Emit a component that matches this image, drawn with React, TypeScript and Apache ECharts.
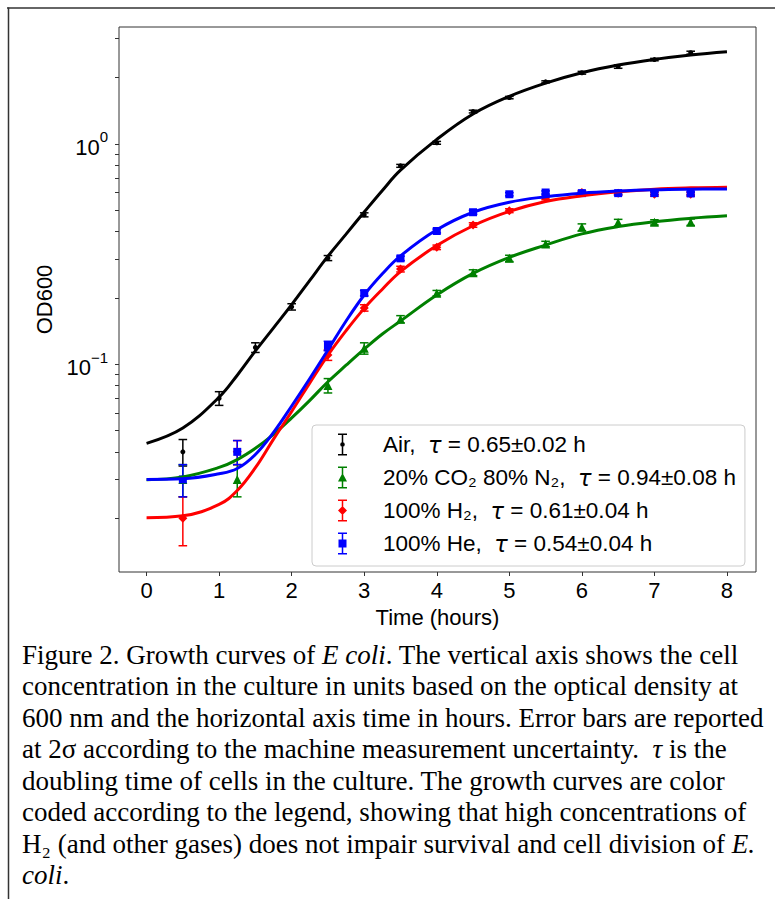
import React, { useEffect, useRef } from 'react';
import * as echarts from 'echarts';

// ---------- data ----------
const fitTime = [0, 0.5, 1, 1.25, 1.5, 1.75, 2, 2.25, 2.5, 2.75, 3, 3.25, 3.5, 4, 4.5, 5, 5.5, 6, 6.5, 7, 7.5, 8];
const airFit = [0.0437, 0.0513, 0.0708, 0.0891, 0.1148, 0.1462, 0.1862, 0.2399, 0.309, 0.389, 0.49, 0.614, 0.759, 1.047, 1.365, 1.641, 1.884, 2.099, 2.275, 2.415, 2.529, 2.618];
const co2Fit = [0.0299, 0.0308, 0.034, 0.0369, 0.0415, 0.048, 0.057, 0.0685, 0.0832, 0.0989, 0.117, 0.137, 0.157, 0.206, 0.258, 0.305, 0.347, 0.39, 0.421, 0.443, 0.459, 0.471];
const h2Fit = [0.0201, 0.0205, 0.0231, 0.0267, 0.0339, 0.0457, 0.061, 0.0822, 0.1099, 0.1419, 0.1791, 0.2188, 0.263, 0.3451, 0.4246, 0.4932, 0.547, 0.5808, 0.6053, 0.6223, 0.631, 0.6353];
const heFit = [0.03, 0.0302, 0.0318, 0.0336, 0.0389, 0.049, 0.0646, 0.0861, 0.116, 0.157, 0.206, 0.257, 0.31, 0.407, 0.489, 0.543, 0.575, 0.597, 0.61, 0.618, 0.622, 0.624];

const airTime = [0.5, 1, 1.5, 2, 2.5, 3, 3.5, 4, 4.5, 5, 5.5, 6, 6.5, 7, 7.5];
const airOD = [0.04, 0.07, 0.119, 0.182, 0.303, 0.476, 0.794, 1.01, 1.4, 1.62, 1.91, 2.1, 2.24, 2.41, 2.59];
const airErr = [0.0055, 0.005, 0.006, 0.006, 0.008, 0.01, 0.012, 0.015, 0.02, 0.02, 0.02, 0.03, 0.04, 0.03, 0.04];

const gasTime = [0.5, 1.25, 2.5, 3, 3.5, 4, 4.5, 5, 5.5, 6, 6.5, 7, 7.5];
const co2OD = [0.03, 0.03, 0.08, 0.118, 0.16, 0.21, 0.26, 0.302, 0.351, 0.418, 0.439, 0.44, 0.441];
const co2Err = [0.005, 0.005, 0.006, 0.007, 0.006, 0.006, 0.008, 0.01, 0.01, 0.015, 0.015, 0.012, 0.015];
const h2OD = [0.02, 0.04, 0.11, 0.18, 0.27, 0.339, 0.428, 0.497, 0.567, 0.601, 0.597, 0.59, 0.59];
const h2Err = [0.005, 0.005, 0.006, 0.006, 0.008, 0.008, 0.01, 0.01, 0.01, 0.012, 0.012, 0.012, 0.012];
const heOD = [0.03, 0.04, 0.121, 0.21, 0.302, 0.402, 0.489, 0.59, 0.601, 0.597, 0.597, 0.597, 0.595];
const heErr = [0.005, 0.005, 0.006, 0.006, 0.007, 0.008, 0.01, 0.01, 0.01, 0.01, 0.01, 0.01, 0.01];

const xTicks = [0, 1, 2, 3, 4, 5, 6, 7, 8];
const yLabelTicks = [0.1, 1];
const yTicks = [0.02, 0.03, 0.04, 0.05, 0.06, 0.07, 0.08, 0.09, 0.1, 0.2, 0.3, 0.4, 0.5, 0.6, 0.7, 0.8, 0.9, 1, 2, 3];

const seriesNames = ['Air', '20% CO2 80% N2', '100% H2', '100% He'];
const legendLabels = [
  'Air,  {t|τ} = 0.65±0.02 h',
  '20% CO₂ 80% N₂,  {t|τ} = 0.94±0.08 h',
  '100% H₂,  {t|τ} = 0.61±0.04 h',
  '100% He,  {t|τ} = 0.54±0.04 h',
];

const captionLines = [
  'Figure 2. Growth curves of {i|E coli}. The vertical axis shows the cell',
  'concentration in the culture in units based on the optical density at',
  '600 nm and the horizontal axis time in hours. Error bars are reported',
  'at 2σ according to the machine measurement uncertainty.  {i|τ} is the',
  'doubling time of cells in the culture. The growth curves are color',
  'coded according to the legend, showing that high concentrations of',
  'H₂ (and other gases) does not impair survival and cell division of {i|E.}',
  '{i|coli}.',
];

// ---------- styles ----------
const colors = ['#000000', '#008000', '#ff0000', '#0000ff'];
const symbols = ['circle', 'triangle', 'diamond', 'rect'];
const symbolSizes: any[] = [5, [9, 9], [9, 9], 8];
const barPath = 'M1.5 0H10.5V1.5H1.5Z M1.5 20.5H10.5V22H1.5Z M5.25 0H6.75V22H5.25Z ';
const markerPaths = [
  'M8.3 11A2.3 2.3 0 1 1 3.7 11A2.3 2.3 0 1 1 8.3 11Z',
  'M6 6.5L10.5 15L1.5 15Z',
  'M6 6.5L10.5 11L6 15.5L1.5 11Z',
  'M2 7H10V15H2Z',
];
const SANS = 'Liberation Sans';
const SERIF = 'Liberation Serif';

export default function App() {
  const ref = useRef<HTMLDivElement>(null);

  useEffect(() => {
    if (!ref.current) return;
    const chart = echarts.init(ref.current, null, { renderer: 'svg' });

    const fits = [airFit, co2Fit, h2Fit, heFit];
    const groups = [
      { time: airTime, od: airOD, err: airErr },
      { time: gasTime, od: co2OD, err: co2Err },
      { time: gasTime, od: h2OD, err: h2Err },
      { time: gasTime, od: heOD, err: heErr },
    ];

    const series: any[] = [];
    fits.forEach((f, i) => {
      series.push({
        type: 'line',
        data: fitTime.map((t, j) => [t, f[j]]),
        showSymbol: false,
        smooth: 0.4,
        lineStyle: { color: colors[i], width: 3 },
        itemStyle: { color: colors[i] },
        silent: true,
      });
    });
    groups.forEach((g, i) => {
      const color = colors[i];
      series.push({
        type: 'custom',
        data: g.time.map((t, j) => [t, g.od[j], g.od[j] - g.err[j], g.od[j] + g.err[j]]),
        encode: { x: 0, y: [1, 2, 3] },
        silent: true,
        renderItem: (params: any, api: any) => {
          const x = api.value(0);
          const lo = api.coord([x, api.value(2)]);
          const hi = api.coord([x, api.value(3)]);
          const cap = 4.3;
          const st = { stroke: color, lineWidth: 1.5 };
          return {
            type: 'group',
            children: [
              { type: 'line', shape: { x1: hi[0], y1: hi[1], x2: lo[0], y2: lo[1] }, style: st },
              { type: 'line', shape: { x1: hi[0] - cap, y1: hi[1], x2: hi[0] + cap, y2: hi[1] }, style: st },
              { type: 'line', shape: { x1: lo[0] - cap, y1: lo[1], x2: lo[0] + cap, y2: lo[1] }, style: st },
            ],
          };
        },
      });
      series.push({
        type: 'scatter',
        name: seriesNames[i],
        data: g.time.map((t, j) => [t, g.od[j]]),
        symbol: symbols[i],
        symbolSize: symbolSizes[i],
        itemStyle: { color, opacity: 1 },
        silent: true,
      });
    });

    const captionElements = captionLines.map((line, i) => ({
      type: 'text',
      x: 22,
      y: 655 + i * 31.43,
      style: {
        text: line,
        fontSize: 27,
        fontFamily: SERIF,
        fill: '#000',
        verticalAlign: 'middle',
        align: 'left',
        rich: {
          i: { fontSize: 27, fontFamily: SERIF, fontStyle: 'italic', fill: '#000' },
        },
      },
    }));

    const option: any = {
      animation: false,
      backgroundColor: '#ffffff',
      grid: {
        left: 119,
        top: 27,
        width: 637,
        height: 545,
        show: true,
        borderColor: '#333333',
        borderWidth: 1,
        backgroundColor: 'transparent',
        containLabel: false,
      },
      xAxis: {
        type: 'value',
        min: -0.38,
        max: 8.4,
        name: 'Time (hours)',
        nameLocation: 'middle',
        nameGap: 34,
        nameTextStyle: { fontSize: 22, fontFamily: SANS, color: '#000' },
        axisLine: { show: false, onZero: false },
        axisTick: { show: true, length: 4, lineStyle: { color: '#333', width: 1 }, customValues: xTicks },
        axisLabel: { customValues: xTicks, fontSize: 22, fontFamily: SANS, color: '#000', margin: 7 },
        splitLine: { show: false },
      },
      yAxis: {
        type: 'log',
        logBase: 10,
        min: 0.0114,
        max: 3.387,
        name: 'OD600',
        nameLocation: 'middle',
        nameGap: 61,
        nameTextStyle: { fontSize: 22, fontFamily: SANS, color: '#000' },
        axisLine: { show: false, onZero: false },
        axisTick: { show: true, length: 4, lineStyle: { color: '#333', width: 1 }, customValues: yTicks },
        axisLabel: {
          customValues: yLabelTicks,
          margin: 11,
          padding: [7, 0, 0, 0],
          formatter: (v: number) => {
            const p = Math.round(Math.log10(v));
            return '{b|10}{s|' + (p < 0 ? '−' + String(-p) : String(p)) + '}';
          },
          rich: {
            b: { fontSize: 22, fontFamily: SANS, color: '#000', lineHeight: 36 },
            s: { fontSize: 15, fontFamily: SANS, color: '#000', lineHeight: 14, verticalAlign: 'top' },
          },
        },
        splitLine: { show: false },
        minorTick: { show: false },
      },
      legend: {
        orient: 'vertical',
        left: 312,
        top: 425,
        padding: [8, 9, 11, 26],
        itemGap: 10,
        itemWidth: 9,
        itemHeight: 22,
        symbolKeepAspect: false,
        selectedMode: false,
        backgroundColor: 'rgba(255,255,255,0.8)',
        borderColor: '#cccccc',
        borderWidth: 1,
        borderRadius: 4,
        data: seriesNames.map((n, i) => ({ name: n, icon: 'path://' + barPath + markerPaths[i] })),
        formatter: (name: string) => legendLabels[seriesNames.indexOf(name)],
        textStyle: {
          fontSize: 22.5,
          fontFamily: SANS,
          color: '#000',
          lineHeight: 22,
          padding: [0, 0, 0, 31],
          rich: {
            t: { fontSize: 22.5, fontFamily: 'DejaVu Sans', fontStyle: 'italic', color: '#000' },
          },
        },
      },
      graphic: {
        elements: [
          { type: 'line', shape: { x1: 7, y1: 8, x2: 775, y2: 8 }, style: { stroke: '#333', lineWidth: 1.5 } },
          { type: 'line', shape: { x1: 8.5, y1: 7.5, x2: 8.5, y2: 899 }, style: { stroke: '#333', lineWidth: 1.5 } },
          ...captionElements,
        ],
      },
      series,
    };

    chart.setOption(option);
    return () => chart.dispose();
  }, []);

  return (
    <div
      ref={ref}
      style={{ position: 'absolute', left: 0, top: 0, width: 775, height: 899, background: '#fff' }}
    />
  );
}
